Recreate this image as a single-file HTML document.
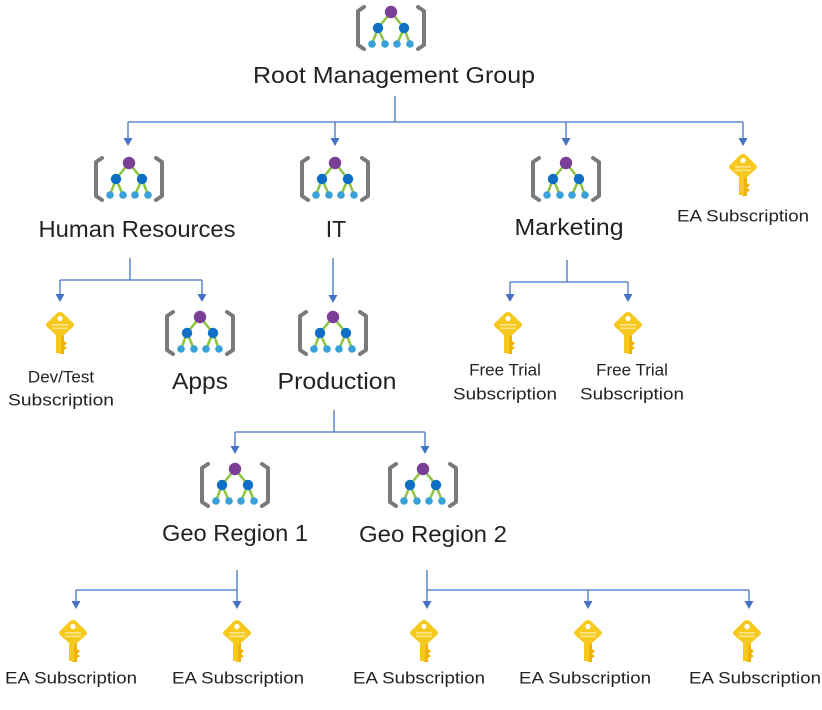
<!DOCTYPE html>
<html><head><meta charset="utf-8"><style>
html,body{margin:0;padding:0;background:#fff;}
svg text{font-family:"Liberation Sans",sans-serif;fill:#222;}
</style></head><body>
<svg width="822" height="705" viewBox="0 0 822 705" xmlns="http://www.w3.org/2000/svg">
<defs>
<g id="mg">
  <path d="M-27,3 L-33,7 L-33,41 L-27,45" fill="none" stroke="#7a7a7a" stroke-width="4" stroke-linecap="round" stroke-linejoin="round"/>
  <path d="M27,3 L33,7 L33,41 L27,45" fill="none" stroke="#7a7a7a" stroke-width="4" stroke-linecap="round" stroke-linejoin="round"/>
  <g stroke="#8cc63f" stroke-width="2.5">
    <line x1="0" y1="8" x2="-13" y2="24"/><line x1="0" y1="8" x2="13" y2="24"/>
    <line x1="-13" y1="24" x2="-19" y2="40"/><line x1="-13" y1="24" x2="-6" y2="40"/>
    <line x1="13" y1="24" x2="6" y2="40"/><line x1="13" y1="24" x2="19" y2="40"/>
  </g>
  <circle cx="0" cy="8" r="6.2" fill="#7b3f98"/>
  <circle cx="-13" cy="24" r="5.2" fill="#0f6fc6"/><circle cx="13" cy="24" r="5.2" fill="#0f6fc6"/>
  <circle cx="-19" cy="40" r="3.8" fill="#3aa0d8"/><circle cx="-6" cy="40" r="3.8" fill="#3aa0d8"/>
  <circle cx="6" cy="40" r="3.8" fill="#3aa0d8"/><circle cx="19" cy="40" r="3.8" fill="#3aa0d8"/>
</g>
<g id="key">
  <path d="M-4,20 L-4,38 L0,42 L4,42 L4,38 L7,36 L4,34 L7,31 L4,29 L4,20 Z" fill="#f0b400"/>
  <rect x="-4" y="18" width="5" height="23" fill="#f7c81e"/>
  <path d="M0,0 Q2,0 4,2 L13,11 Q15,13 13,15 L4,23 Q2,25 0,25 Q-2,25 -4,23 L-13,15 Q-15,13 -13,11 L-4,2 Q-2,0 0,0 Z" fill="#f7c81e"/>
  <circle cx="0" cy="6.5" r="2.6" fill="#fff"/>
  <rect x="-8" y="12" width="16" height="1.6" fill="#fbe48a"/>
  <rect x="-8" y="15.5" width="16" height="1.6" fill="#fbe48a"/>
</g>
<g id="ar"><path d="M-4.5,-8 L4.5,-8 L0,0 Z" fill="#4472c4"/></g>
</defs>

<g stroke="#4472c4" stroke-width="1.3" fill="none">
  <line x1="395" y1="96" x2="395" y2="122"/>
  <line x1="128" y1="122" x2="743" y2="122"/>
  <line x1="128" y1="122" x2="128" y2="140"/><line x1="335" y1="122" x2="335" y2="140"/>
  <line x1="566" y1="122" x2="566" y2="140"/><line x1="743" y1="122" x2="743" y2="140"/>
  <line x1="130" y1="258" x2="130" y2="280"/>
  <line x1="60" y1="280" x2="202" y2="280"/>
  <line x1="60" y1="280" x2="60" y2="297"/><line x1="202" y1="280" x2="202" y2="297"/>
  <line x1="333" y1="258" x2="333" y2="298"/>
  <line x1="567" y1="260" x2="567" y2="282"/>
  <line x1="510" y1="282" x2="628" y2="282"/>
  <line x1="510" y1="282" x2="510" y2="297"/><line x1="628" y1="282" x2="628" y2="297"/>
  <line x1="334" y1="410" x2="334" y2="432"/>
  <line x1="235" y1="432" x2="425" y2="432"/>
  <line x1="235" y1="432" x2="235" y2="449"/><line x1="425" y1="432" x2="425" y2="449"/>
  <line x1="237" y1="570" x2="237" y2="605"/>
  <line x1="76" y1="590" x2="237" y2="590"/>
  <line x1="76" y1="590" x2="76" y2="605"/>
  <line x1="427" y1="570" x2="427" y2="605"/>
  <line x1="427" y1="590" x2="749" y2="590"/>
  <line x1="588" y1="590" x2="588" y2="605"/><line x1="749" y1="590" x2="749" y2="605"/>
</g>
<use href="#ar" x="128" y="146"/><use href="#ar" x="335" y="146"/><use href="#ar" x="566" y="146"/><use href="#ar" x="743" y="146"/>
<use href="#ar" x="60" y="302"/><use href="#ar" x="202" y="302"/><use href="#ar" x="333" y="303"/>
<use href="#ar" x="510" y="302"/><use href="#ar" x="628" y="302"/>
<use href="#ar" x="235" y="454"/><use href="#ar" x="425" y="454"/>
<use href="#ar" x="76" y="609"/><use href="#ar" x="237" y="609"/>
<use href="#ar" x="427" y="609"/><use href="#ar" x="588" y="609"/><use href="#ar" x="749" y="609"/>

<use href="#mg" x="391" y="4"/>
<use href="#mg" x="129" y="155"/>
<use href="#mg" x="335" y="155"/>
<use href="#mg" x="566" y="155"/>
<use href="#mg" x="200" y="309"/>
<use href="#mg" x="333" y="309"/>
<use href="#mg" x="235" y="461"/>
<use href="#mg" x="423" y="461"/>

<use href="#key" x="743" y="154"/>
<use href="#key" x="60" y="312"/>
<use href="#key" x="508" y="312"/>
<use href="#key" x="628" y="312"/>
<use href="#key" x="73" y="620"/>
<use href="#key" x="237" y="620"/>
<use href="#key" x="424" y="620"/>
<use href="#key" x="588" y="620"/>
<use href="#key" x="747" y="620"/>

<g font-size="23" text-anchor="middle" dominant-baseline="central">
  <text x="394" y="75" textLength="282" lengthAdjust="spacingAndGlyphs">Root Management Group</text>
  <text x="137" y="229" textLength="197" lengthAdjust="spacingAndGlyphs">Human Resources</text>
  <text x="336" y="229">IT</text>
  <text x="569" y="227" textLength="109" lengthAdjust="spacingAndGlyphs">Marketing</text>
  <text x="200" y="381" textLength="56" lengthAdjust="spacingAndGlyphs">Apps</text>
  <text x="337" y="381" textLength="119" lengthAdjust="spacingAndGlyphs">Production</text>
  <text x="235" y="533" textLength="146" lengthAdjust="spacingAndGlyphs">Geo Region 1</text>
  <text x="433" y="534" textLength="148" lengthAdjust="spacingAndGlyphs">Geo Region 2</text>
</g>
<g font-size="17" text-anchor="middle" dominant-baseline="central">
  <text x="743" y="216" textLength="132" lengthAdjust="spacingAndGlyphs">EA Subscription</text>
  <text x="61" y="377">Dev/Test</text>
  <text x="61" y="400" textLength="106" lengthAdjust="spacingAndGlyphs">Subscription</text>
  <text x="505" y="370">Free Trial</text>
  <text x="505" y="394" textLength="104" lengthAdjust="spacingAndGlyphs">Subscription</text>
  <text x="632" y="370">Free Trial</text>
  <text x="632" y="394" textLength="104" lengthAdjust="spacingAndGlyphs">Subscription</text>
  <text x="71" y="678" textLength="132" lengthAdjust="spacingAndGlyphs">EA Subscription</text>
  <text x="238" y="678" textLength="132" lengthAdjust="spacingAndGlyphs">EA Subscription</text>
  <text x="419" y="678" textLength="132" lengthAdjust="spacingAndGlyphs">EA Subscription</text>
  <text x="585" y="678" textLength="132" lengthAdjust="spacingAndGlyphs">EA Subscription</text>
  <text x="755" y="678" textLength="132" lengthAdjust="spacingAndGlyphs">EA Subscription</text>
</g>
</svg>
</body></html>
